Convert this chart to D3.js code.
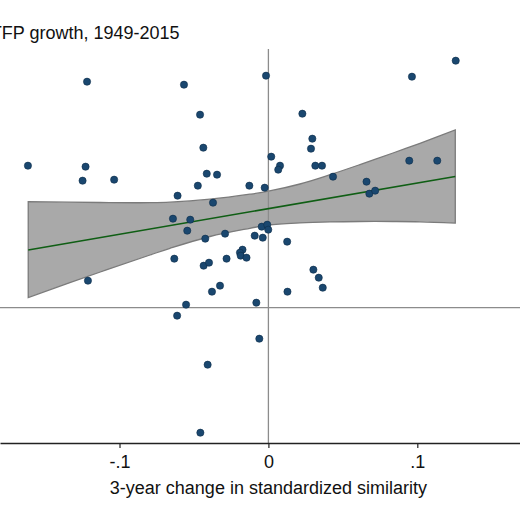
<!DOCTYPE html>
<html>
<head>
<meta charset="utf-8">
<script src="https://cdn.jsdelivr.net/npm/d3@7"></script>
<style>
  body { margin: 0; background: #fff; }
  svg { display: block; font-family: "Liberation Sans", Arial, Helvetica, sans-serif; }
</style>
</head>
<body>
<svg width="520" height="520"></svg>
<script>
// scatter: 3-year change in similarity vs TFP growth
var simChange = [
  -0.1218, -0.0567, -0.0459, -0.0437, -0.1615, -0.1228, -0.1248, -0.1036,
  -0.0414, -0.0345, -0.0474, -0.0128, -0.0610, -0.0016, 0.0964, 0.1258,
  0.0228, 0.0295, 0.0286, 0.0019, 0.0078, 0.0066, 0.0315, 0.0360,
  0.0946, 0.1134, 0.0434, 0.0659, 0.0678, 0.0717, -0.0025, -0.0372,
  -0.0641, -0.0525, -0.0545, -0.0424, -0.0291, -0.0092, -0.0045, -0.0008,
  -0.0001, -0.0038, 0.0126, -0.0174, -0.0191, -0.0186, -0.0147, -0.0632,
  -0.0435, -0.0399, -0.0281, -0.1212, -0.0325, -0.0379, -0.0553, -0.0613,
  -0.0081, -0.0061, -0.0408, -0.0457, 0.0302, 0.0338, 0.0365, 0.0128
];
var tfpGrowth = [
  2.26, 2.23, 1.93, 1.60, 1.42, 1.41, 1.27, 1.28,
  1.34, 1.33, 1.22, 1.22, 1.12, 2.32, 2.31, 2.47,
  1.94, 1.69, 1.59, 1.51, 1.42, 1.38, 1.42, 1.42,
  1.47, 1.47, 1.31, 1.26, 1.14, 1.17, 1.20, 1.05,
  0.89, 0.88, 0.77, 0.69, 0.74, 0.72, 0.81, 0.83,
  0.78, 0.70, 0.66, 0.58, 0.55, 0.52, 0.50, 0.49,
  0.42, 0.45, 0.49, 0.27, 0.22, 0.16, 0.03, -0.08,
  0.05, -0.31, -0.57, -1.25, 0.38, 0.30, 0.20, 0.16
];

// fitted line and its confidence band
var fitX = [-0.1613, 0.1255];
var fitY = [0.577, 1.312];
var bandX  = [-0.1613, -0.1129, -0.0795, -0.0661, -0.0392, -0.0124, 0, 0.0212, 0.0414, 0.0615, 0.0837, 0.1018, 0.1255];
var bandHi = [1.060, 1.052, 1.050, 1.055, 1.085, 1.135, 1.165, 1.237, 1.330, 1.431, 1.547, 1.644, 1.777];
var bandLo = [0.102, 0.357, 0.527, 0.594, 0.712, 0.794, 0.827, 0.848, 0.858, 0.862, 0.862, 0.859, 0.846];

var xTicks = [-0.1, 0, 0.1];
var xTickLabels = ["-.1", "0", ".1"];
var titleText = "TFP growth, 1949-2015";
var xLabel = "3-year change in standardized similarity";

var W = 520, H = 520,
    plotTop = 49, plotBottom = 443;
var root = d3.select("svg");

var x = d3.scaleLinear()
          .domain([-0.18026, 0.16897])
          .range([0, W]),
    y = d3.scaleLinear()
          .domain([-1.353, 2.587])
          .range([plotBottom, plotTop]);

// band
var band = bandX.map(function(d, i) { return { x: d, lo: bandLo[i], hi: bandHi[i] }; });
root.append("path")
    .datum(band)
    .attr("fill", "#a9a9a9")
    .attr("stroke", "#7b7b7b")
    .attr("stroke-width", 1.3)
    .attr("d", d3.area()
        .curve(d3.curveCatmullRom)
        .x(function(d) { return x(d.x); })
        .y0(function(d) { return y(d.lo); })
        .y1(function(d) { return y(d.hi); })(band) + "Z");

// reference lines at zero
root.append("line")
    .attr("x1", 0).attr("x2", W)
    .attr("y1", y(0)).attr("y2", y(0))
    .attr("stroke", "#8c8c8c").attr("stroke-width", 1.3);
root.append("line")
    .attr("x1", x(0)).attr("x2", x(0))
    .attr("y1", plotTop).attr("y2", plotBottom)
    .attr("stroke", "#8c8c8c").attr("stroke-width", 1.3);

// fit line
root.append("path")
    .datum(fitX.map(function(d, i) { return [d, fitY[i]]; }))
    .attr("fill", "none")
    .attr("stroke", "#0f5e14")
    .attr("stroke-width", 1.6)
    .attr("d", d3.line()
        .x(function(d) { return x(d[0]); })
        .y(function(d) { return y(d[1]); }));

// points
root.append("g")
  .selectAll("circle")
  .data(simChange)
  .enter()
  .append("circle")
    .attr("cx", function(d) { return x(d); })
    .attr("cy", function(d, i) { return y(tfpGrowth[i]); })
    .attr("r", 3.6)
    .attr("fill", "#1a476f")
    .attr("stroke", "#0e2d4a")
    .attr("stroke-width", 0.6);

// x axis
var ax = root.append("g")
    .attr("transform", "translate(0," + plotBottom + ")")
    .call(d3.axisBottom(x)
        .tickValues(xTicks)
        .tickFormat(function(d, i) { return xTickLabels[i]; })
        .tickSize(5)
        .tickSizeOuter(0)
        .tickPadding(7));
ax.select(".domain").attr("stroke", "#222").attr("stroke-width", 1.3);
ax.selectAll(".tick line").attr("stroke", "#222").attr("stroke-width", 1.2);
ax.selectAll(".tick text")
    .attr("fill", "#111")
    .style("font-size", "18px")
    .style("font-family", "'Liberation Sans', Arial, sans-serif");

root.append("text")
    .attr("x", x(0))
    .attr("y", 494)
    .attr("text-anchor", "middle")
    .attr("fill", "#111")
    .style("font-size", "18px")
    .text(xLabel);

root.append("text")
    .attr("x", 179.5)
    .attr("y", 39)
    .attr("text-anchor", "end")
    .attr("fill", "#111")
    .style("font-size", "18px")
    .text(titleText);
</script>
</body>
</html>
